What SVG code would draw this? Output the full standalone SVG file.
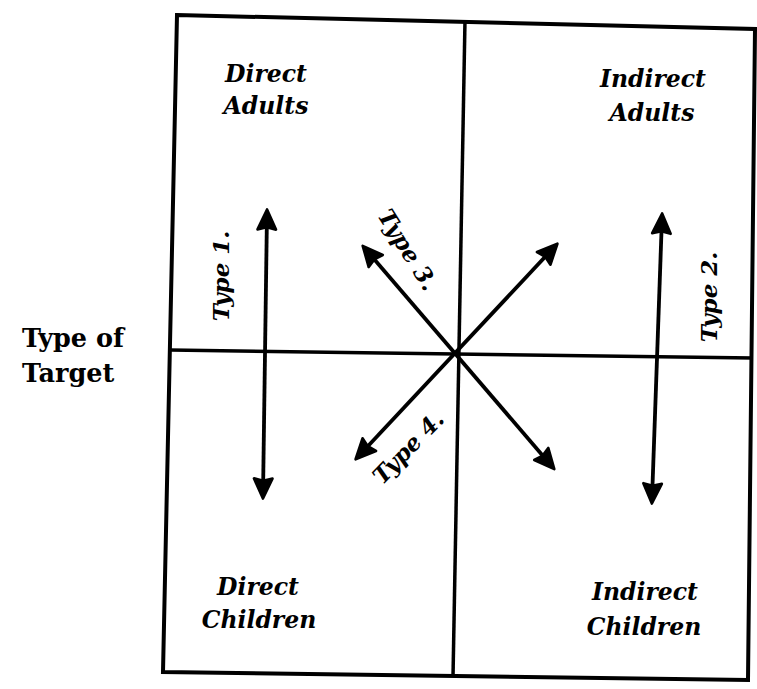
<svg xmlns="http://www.w3.org/2000/svg" width="757" height="689" viewBox="0 0 757 689">
<style>
.frame{fill:none;stroke:#000;stroke-width:4;stroke-linejoin:miter}
.div{fill:none;stroke:#000;stroke-width:3.5}
.arr{fill:none;stroke:#000;stroke-width:3.8;marker-start:url(#ah);marker-end:url(#ah)}
.lbl{font-family:"DejaVu Serif","Liberation Serif",serif;font-style:italic;font-weight:bold;font-size:23.5px;fill:#000;text-anchor:middle}
.typ{font-family:"DejaVu Serif","Liberation Serif",serif;font-style:italic;font-weight:bold;font-size:23px;fill:#000;text-anchor:middle}
.axis{font-family:"DejaVu Serif","Liberation Serif",serif;font-weight:bold;font-size:25.5px;fill:#000}
</style>
<defs>
<marker id="ah" viewBox="0 0 10 10" refX="8" refY="5" markerUnits="userSpaceOnUse" markerWidth="24" markerHeight="22" orient="auto-start-reverse">
<path d="M0.5,0.8 L9.6,5 L0.5,9.2 L1.5,5 z" fill="#000" stroke="#000" stroke-width="1.2" stroke-linejoin="round"/>
</marker>
</defs>
<rect width="757" height="689" fill="#fff"/>
<g id="frame">
<polygon class="frame" points="177,15 755,29 748,680 163,672"/>
<line class="div" x1="465" y1="20" x2="453" y2="677"/>
<line class="div" x1="170" y1="350" x2="753" y2="358"/>
</g>
<g id="axis-label">
<text class="axis" x="22" y="347">Type of</text>
<text class="axis" x="22" y="382">Target</text>
</g>
<g id="direct-adults">
<text class="lbl" x="266" y="82">Direct</text>
<text class="lbl" x="266" y="114">Adults</text>
</g>
<g id="indirect-adults">
<text class="lbl" x="653" y="87">Indirect</text>
<text class="lbl" x="652" y="121">Adults</text>
</g>
<g id="direct-children">
<text class="lbl" x="258" y="595">Direct</text>
<text class="lbl" x="259" y="628">Children</text>
</g>
<g id="indirect-children">
<text class="lbl" x="645" y="600">Indirect</text>
<text class="lbl" x="644" y="635">Children</text>
</g>
<g id="connectors">
<line class="arr" x1="267" y1="213" x2="263" y2="495"/>
<line class="arr" x1="662" y1="217" x2="652" y2="500"/>
<line class="arr" x1="365" y1="248.5" x2="552" y2="466.5"/>
<line class="arr" x1="555" y1="246.3" x2="358" y2="456.7"/>
</g>
<g id="type-labels">
<text class="typ" transform="translate(229,276) rotate(-90)">Type 1.</text>
<text class="typ" transform="translate(717,297) rotate(-90)">Type 2.</text>
<text class="typ" transform="translate(401,254) rotate(58)">Type 3.</text>
<text class="typ" transform="translate(414,453) rotate(-46)">Type 4.</text>
</g>
</svg>
